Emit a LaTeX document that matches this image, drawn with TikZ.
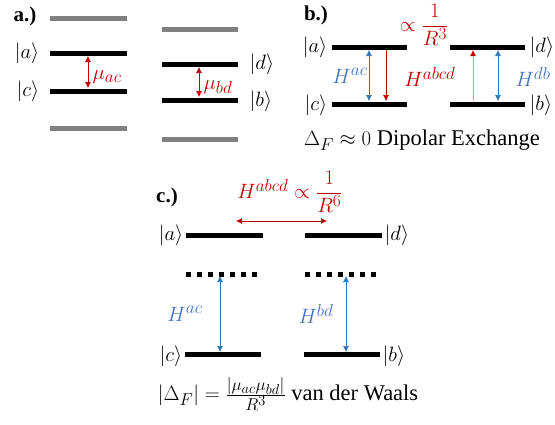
\documentclass[tikz,border=0pt]{standalone}
\usepackage{fontspec}
\setmainfont{Liberation Serif}
\usetikzlibrary{arrows.meta}
\renewcommand\defaultscriptratio{.78}
\renewcommand\defaultscriptscriptratio{.6}
\definecolor{dred}{HTML}{C00000}
\definecolor{lblue}{HTML}{4472C4}
\definecolor{ablue}{HTML}{2E75B6}
\definecolor{bargray}{HTML}{808080}
\tikzset{
  lvl/.style={line width=5pt, black},
  graylvl/.style={line width=5pt, bargray},
  dotlvl/.style={line width=5pt, black, dash pattern=on 5pt off 6pt},
  lbl/.style={inner sep=0.5pt, font=\fontsize{22.5}{26}\selectfont},
  ttl/.style={inner sep=0.5pt, font=\fontsize{21}{25}\selectfont\bfseries},
  redarr/.style={dred, line width=0.6pt, {Latex[length=6pt,width=6pt]}-{Latex[length=6pt,width=6pt]}},
  bluearr/.style={ablue, line width=0.6pt, {Latex[length=6pt,width=6pt]}-{Latex[length=6pt,width=6pt]}},
}
\begin{document}
\begin{tikzpicture}[x=1pt,y=-1pt]
\useasboundingbox (0,0) rectangle (555,424);
% ---------- panel a ----------
\node[ttl] (la) at (25,16) {a.)};
\coordinate (a1L) at (50,18);  \coordinate (a1R) at (127,18);
\coordinate (a2L) at (50,53);  \coordinate (a2R) at (127,53);
\coordinate (a3L) at (50,91);  \coordinate (a3R) at (127,91);
\coordinate (a4L) at (50,128); \coordinate (a4R) at (127,128);
\coordinate (b1L) at (162,29);  \coordinate (b1R) at (238,29);
\coordinate (b2L) at (162,64);  \coordinate (b2R) at (238,64);
\coordinate (b3L) at (162,100); \coordinate (b3R) at (238,100);
\coordinate (b4L) at (162,139); \coordinate (b4R) at (238,139);
\draw[graylvl] (a1L) -- (a1R);
\draw[lvl] (a2L) -- (a2R);
\draw[lvl] (a3L) -- (a3R);
\draw[graylvl] (a4L) -- (a4R);
\draw[graylvl] (b1L) -- (b1R);
\draw[lvl] (b2L) -- (b2R);
\draw[lvl] (b3L) -- (b3R);
\draw[graylvl] (b4L) -- (b4R);
\node[lbl, anchor=east] (ka) at (40,53) {$|a\rangle$};
\node[lbl, anchor=east] (kc) at (40,91) {$|c\rangle$};
\node[lbl, anchor=west] (kd) at (249,64) {$|d\rangle$};
\node[lbl, anchor=west] (kb) at (249,101) {$|b\rangle$};
\coordinate (m1t) at (88,56); \coordinate (m1b) at (88,88);
\coordinate (m2t) at (199,67); \coordinate (m2b) at (199,97);
\draw[redarr] (m1t) -- (m1b);
\draw[redarr] (m2t) -- (m2b);
\node[lbl, anchor=west, dred] (mac) at (92,77) {$\mu_{ac}$};
\node[lbl, anchor=west, dred] (mbd) at (203,87) {$\mu_{bd}$};
% ---------- panel b ----------
\node[ttl] (lb) at (316,15) {b.)};
\coordinate (p1L) at (332,47);  \coordinate (p1R) at (407,47);
\coordinate (p2L) at (332,104); \coordinate (p2R) at (407,104);
\coordinate (q1L) at (450,47);  \coordinate (q1R) at (525,47);
\coordinate (q2L) at (450,104); \coordinate (q2R) at (525,104);
\draw[lvl] (p1L) -- (p1R);
\draw[lvl] (p2L) -- (p2R);
\draw[lvl] (q1L) -- (q1R);
\draw[lvl] (q2L) -- (q2R);
\node[lbl, anchor=east] (kba) at (328,47) {$|a\rangle$};
\node[lbl, anchor=east] (kbc) at (328,105) {$|c\rangle$};
\node[lbl, anchor=west] (kbd) at (529,47) {$|d\rangle$};
\node[lbl, anchor=west] (kbb) at (529,105) {$|b\rangle$};
\coordinate (h1t) at (369,50); \coordinate (h1b) at (369,101);
\coordinate (h2t) at (386,50); \coordinate (h2b) at (386,101);
\coordinate (h3t) at (473,50); \coordinate (h3b) at (473,101);
\coordinate (h4t) at (498,50); \coordinate (h4b) at (498,101);
\draw[bluearr] (h1t) -- (h1b);
\draw[dred, line width=0.6pt, -{Latex[length=6pt,width=6pt]}] (h2t) -- (h2b);
\draw[dred!40, line width=0.9pt, -{Latex[length=6pt,width=6pt,color=dred,fill=dred]}] (h3b) -- (h3t);
\draw[bluearr] (h4t) -- (h4b);
\node[lbl, lblue] (hac) at (350,76) {$H^{ac}$};
\node[lbl, dred] (habcd) at (430,77) {$H^{abcd}$};
\node[lbl, lblue] (hdb) at (533,77) {$H^{db}$};
\node[lbl, dred] (prop3) at (424,25) {$\propto\displaystyle\frac{1}{R^3}$};
\node[lbl] (dip) at (422,140) {$\Delta_F\approx 0$ Dipolar Exchange};
% ---------- panel c ----------
\node[ttl] (lc) at (167,197) {c.)};
\coordinate (c1L) at (186,235); \coordinate (c1R) at (263,235);
\coordinate (d1L) at (305,235); \coordinate (d1R) at (382,235);
\coordinate (c2L) at (186,274); \coordinate (c2R) at (257,274);
\coordinate (d2L) at (305,274); \coordinate (d2R) at (376,274);
\coordinate (c3L) at (185,354); \coordinate (c3R) at (261,354);
\coordinate (d3L) at (304,354); \coordinate (d3R) at (380,354);
\draw[lvl] (c1L) -- (c1R);
\draw[lvl] (d1L) -- (d1R);
\draw[dotlvl] (c2L) -- (c2R);
\draw[dotlvl] (d2L) -- (d2R);
\draw[lvl] (c3L) -- (c3R);
\draw[lvl] (d3L) -- (d3R);
\node[lbl, anchor=east] (kca) at (184,235) {$|a\rangle$};
\node[lbl, anchor=west] (kcd) at (384,235) {$|d\rangle$};
\node[lbl, anchor=east] (kcc) at (183,356) {$|c\rangle$};
\node[lbl, anchor=west] (kcb) at (382,356) {$|b\rangle$};
\coordinate (rL) at (236,221); \coordinate (rR) at (327,221);
\draw[redarr] (rL) -- (rR);
\node[lbl, dred] (h6) at (290,192) {$H^{abcd}\propto\displaystyle\frac{1}{R^6}$};
\coordinate (v1t) at (220,276); \coordinate (v1b) at (220,352);
\coordinate (v2t) at (346,276); \coordinate (v2b) at (346,352);
\draw[bluearr] (v1t) -- (v1b);
\draw[bluearr] (v2t) -- (v2b);
\node[lbl, lblue] (hcac) at (185,314) {$H^{ac}$};
\node[lbl, lblue] (hcbd) at (316,314) {$H^{bd}$};
\node[lbl] (vdw) at (288,394) {$|\Delta_F|=\frac{|\mu_{ac}\mu_{bd}|}{R^3}$ van der Waals};
\end{tikzpicture}
\end{document}
